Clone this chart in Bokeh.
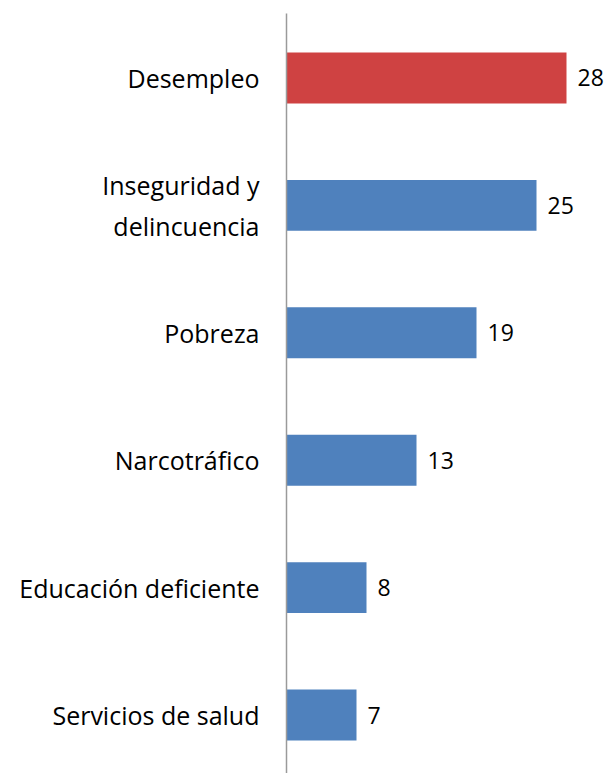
from bokeh.plotting import figure
from bokeh.models import Range1d, FixedTicker, ColumnDataSource
from bokeh.core.properties import value
from bokeh.embed import file_html
from bokeh.resources import INLINE

categories = ["Desempleo", "Inseguridad y\ndelincuencia", "Pobreza", "Narcotráfico",
              "Educación deficiente", "Servicios de salud"]
values = [28, 25, 19, 13, 8, 7]
colors = ["#CF4242", "#4F81BD", "#4F81BD", "#4F81BD", "#4F81BD", "#4F81BD"]

positions = list(range(len(categories)))
src = ColumnDataSource(dict(y=positions, v=values, c=colors, t=[str(v) for v in values]))

FONT = "Open Sans"
p = figure(width=609, height=773, output_backend="svg", toolbar_location=None,
           x_range=Range1d(0, 32.3), y_range=Range1d(5.459, -0.506),
           x_axis_location=None, min_border_left=286, min_border_right=0,
           min_border_top=13, min_border_bottom=0)
p.outline_line_color = None
p.grid.visible = False
p.background_fill_color = "white"
p.border_fill_color = "white"

p.hbar(y="y", left=0, right="v", height=0.4, fill_color="c", line_color=None, source=src)
p.text(x="v", y="y", text="t", x_offset=11, text_baseline="middle", text_align="left",
       text_font=value(FONT), text_font_size="23px", text_color="black", source=src)

ya = p.yaxis[0]
ya.ticker = FixedTicker(ticks=positions)
ya.major_label_overrides = {i: c for i, c in zip(positions, categories)}
ya.major_tick_line_color = None
ya.minor_tick_line_color = None
ya.major_tick_out = 0
ya.major_tick_in = 0
ya.major_label_standoff = 27
ya.axis_line_color = "#9a9a9a"
ya.axis_line_width = 1.5
ya.major_label_text_font = FONT
ya.major_label_text_font_size = "25px"
ya.major_label_text_color = "black"

open("out.html", "w").write(file_html(p, INLINE))
